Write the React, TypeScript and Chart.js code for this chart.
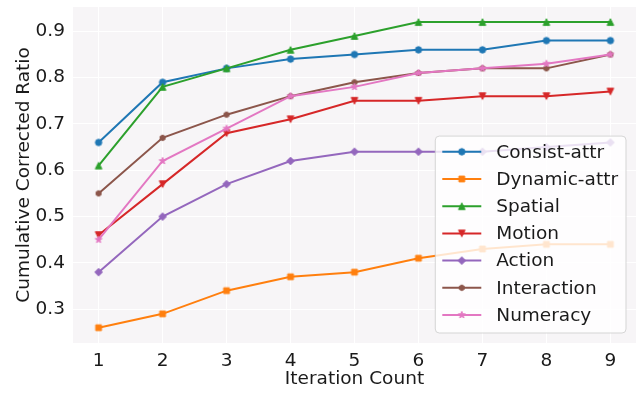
import { useEffect, useRef } from 'react';
import { Chart, registerables } from 'chart.js';

Chart.register(...registerables);

const iterations = [1, 2, 3, 4, 5, 6, 7, 8, 9];
const consistAttr = [0.66, 0.79, 0.82, 0.84, 0.85, 0.86, 0.86, 0.88, 0.88];
const dynamicAttr = [0.26, 0.29, 0.34, 0.37, 0.38, 0.41, 0.43, 0.44, 0.44];
const spatial = [0.61, 0.78, 0.82, 0.86, 0.89, 0.92, 0.92, 0.92, 0.92];
const motion = [0.46, 0.57, 0.68, 0.71, 0.75, 0.75, 0.76, 0.76, 0.77];
const action = [0.38, 0.5, 0.57, 0.62, 0.64, 0.64, 0.64, 0.65, 0.66];
const interaction = [0.55, 0.67, 0.72, 0.76, 0.79, 0.81, 0.82, 0.82, 0.85];
const numeracy = [0.45, 0.62, 0.69, 0.76, 0.78, 0.81, 0.82, 0.83, 0.85];

const seriesNames = ['Consist-attr', 'Dynamic-attr', 'Spatial', 'Motion', 'Action', 'Interaction', 'Numeracy'];
const seriesValues = [consistAttr, dynamicAttr, spatial, motion, action, interaction, numeracy];
const seriesColors = ['#1f77b4', '#ff7f0e', '#2ca02c', '#d62728', '#9467bd', '#8c564b', '#e377c2'];
const seriesMarkers = ['circle', 'square', 'triUp', 'triDown', 'diamond', 'hexagon', 'star'];

const yTicks = [0.3, 0.4, 0.5, 0.6, 0.7, 0.8, 0.9];
const xTicks = iterations;

const FONT = 'DejaVu Sans';
const FS = 18.5;
const TEXT = '#1a1a1a';

function makeMarker(shape: string, color: string): HTMLCanvasElement {
  const S = 14;
  const c = document.createElement('canvas');
  c.width = S;
  c.height = S;
  const ctx = c.getContext('2d')!;
  const cx = S / 2;
  const cy = S / 2;
  ctx.fillStyle = color;
  ctx.strokeStyle = color;
  ctx.lineWidth = 1;
  ctx.beginPath();
  if (shape === 'circle') {
    ctx.arc(cx, cy, 3.2, 0, Math.PI * 2);
  } else if (shape === 'square') {
    ctx.rect(cx - 2.9, cy - 2.9, 5.8, 5.8);
  } else if (shape === 'triUp') {
    ctx.moveTo(cx, cy - 3.3);
    ctx.lineTo(cx - 3.3, cy + 3.3);
    ctx.lineTo(cx + 3.3, cy + 3.3);
    ctx.closePath();
  } else if (shape === 'triDown') {
    ctx.moveTo(cx, cy + 3.3);
    ctx.lineTo(cx - 3.3, cy - 3.3);
    ctx.lineTo(cx + 3.3, cy - 3.3);
    ctx.closePath();
  } else if (shape === 'diamond') {
    ctx.moveTo(cx, cy - 3.8);
    ctx.lineTo(cx + 3.8, cy);
    ctx.lineTo(cx, cy + 3.8);
    ctx.lineTo(cx - 3.8, cy);
    ctx.closePath();
  } else if (shape === 'hexagon') {
    for (let i = 0; i < 6; i++) {
      const a = -Math.PI / 2 + (i * Math.PI) / 3;
      const px = cx + 2.9 * Math.cos(a);
      const py = cy + 2.9 * Math.sin(a);
      if (i === 0) ctx.moveTo(px, py);
      else ctx.lineTo(px, py);
    }
    ctx.closePath();
  } else if (shape === 'star') {
    for (let i = 0; i < 10; i++) {
      const a = -Math.PI / 2 + (i * Math.PI) / 5;
      const r = i % 2 === 0 ? 3.6 : 1.5;
      const px = cx + r * Math.cos(a);
      const py = cy + r * Math.sin(a);
      if (i === 0) ctx.moveTo(px, py);
      else ctx.lineTo(px, py);
    }
    ctx.closePath();
  }
  ctx.fill();
  ctx.stroke();
  return c;
}

export default function App() {
  const canvasRef = useRef<HTMLCanvasElement | null>(null);

  useEffect(() => {
    const canvas = canvasRef.current;
    if (!canvas) return;
    const markers = seriesMarkers.map((m, i) => makeMarker(m, seriesColors[i]));

    const bgPlugin = {
      id: 'plotBg',
      beforeDraw(chart: any) {
        const { ctx, chartArea } = chart;
        ctx.save();
        ctx.fillStyle = '#f7f5f7';
        ctx.fillRect(chartArea.left, chartArea.top, chartArea.right - chartArea.left, chartArea.bottom - chartArea.top);
        ctx.restore();
      },
    };

    const legendPlugin = {
      id: 'mplLegend',
      afterDatasetsDraw(chart: any) {
        const { ctx, chartArea } = chart;
        ctx.save();
        ctx.font = `${FS}px "${FONT}"`;
        let maxW = 0;
        seriesNames.forEach((n) => {
          maxW = Math.max(maxW, ctx.measureText(n).width);
        });
        const rowH = 27.2;
        const w = 61 + maxW + 8;
        const h = 15.7 + rowH * (seriesNames.length - 1) + 18;
        const right = chartArea.right - 10;
        const bottom = chartArea.bottom - 10;
        const left = right - w;
        const top = bottom - h;
        const r = 4;
        ctx.beginPath();
        ctx.moveTo(left + r, top);
        ctx.lineTo(right - r, top);
        ctx.arcTo(right, top, right, top + r, r);
        ctx.lineTo(right, bottom - r);
        ctx.arcTo(right, bottom, right - r, bottom, r);
        ctx.lineTo(left + r, bottom);
        ctx.arcTo(left, bottom, left, bottom - r, r);
        ctx.lineTo(left, top + r);
        ctx.arcTo(left, top, left + r, top, r);
        ctx.closePath();
        ctx.fillStyle = 'rgba(255,255,255,0.8)';
        ctx.fill();
        ctx.strokeStyle = 'rgba(204,204,204,0.8)';
        ctx.lineWidth = 1;
        ctx.stroke();

        seriesNames.forEach((n, i) => {
          const y = top + 15.7 + i * rowH;
          ctx.strokeStyle = seriesColors[i];
          ctx.lineWidth = 2;
          ctx.beginPath();
          ctx.moveTo(left + 7, y);
          ctx.lineTo(left + 46, y);
          ctx.stroke();
          const m = markers[i];
          ctx.drawImage(m, left + 26.5 - m.width / 2, y - m.height / 2);
          ctx.fillStyle = TEXT;
          ctx.textAlign = 'left';
          ctx.textBaseline = 'middle';
          ctx.fillText(n, left + 61, y + 1);
        });
        ctx.restore();
      },
    };

    const chart = new Chart(canvas, {
      type: 'line',
      data: {
        datasets: seriesNames.map((name, i) => ({
          label: name,
          data: iterations.map((x, j) => ({ x, y: seriesValues[i][j] })),
          borderColor: seriesColors[i],
          backgroundColor: seriesColors[i],
          borderWidth: 2,
          pointStyle: markers[i],
          pointRadius: 4,
          tension: 0,
          fill: false,
          order: seriesNames.length - i,
        })),
      },
      options: {
        responsive: false,
        animation: false,
        layout: { padding: { top: 7, right: 6, left: 0, bottom: 0 } },
        plugins: {
          legend: { display: false },
          tooltip: { enabled: false },
        },
        scales: {
          x: {
            type: 'linear',
            min: 0.6,
            max: 9.4,
            afterBuildTicks(scale: any) {
              scale.ticks = xTicks.map((v) => ({ value: v }));
            },
            afterFit(scale: any) {
              scale.height = 52;
              scale.paddingLeft = 0;
              scale.paddingRight = 0;
            },
            grid: { color: '#ffffff', lineWidth: 1, drawTicks: false },
            border: { display: false },
            ticks: {
              padding: 7,
              color: TEXT,
              font: { family: FONT, size: FS },
              maxRotation: 0,
              autoSkip: false,
              callback: (v: any) => String(v),
            },
            title: {
              display: true,
              text: 'Iteration Count',
              color: TEXT,
              font: { family: FONT, size: FS },
              padding: { top: 0, bottom: 5 },
            },
          },
          y: {
            type: 'linear',
            min: 0.227,
            max: 0.9525,
            afterBuildTicks(scale: any) {
              scale.ticks = yTicks.map((v) => ({ value: v }));
            },
            afterFit(scale: any) {
              scale.width = 73;
              scale.paddingTop = 0;
              scale.paddingBottom = 0;
            },
            grid: { color: '#ffffff', lineWidth: 1, drawTicks: false },
            border: { display: false },
            ticks: {
              padding: 8,
              color: TEXT,
              font: { family: FONT, size: FS },
              autoSkip: false,
              callback: (v: any) => Number(v).toFixed(1),
            },
            title: {
              display: true,
              text: 'Cumulative Corrected Ratio',
              color: TEXT,
              font: { family: FONT, size: FS },
              padding: { top: 13, bottom: 0 },
            },
          },
        },
      },
      plugins: [bgPlugin, legendPlugin],
    });

    return () => {
      chart.destroy();
    };
  }, []);

  return (
    <div style={{ position: 'fixed', left: 0, top: 0, width: 642, height: 395, background: '#ffffff' }}>
      <canvas ref={canvasRef} width={642} height={395} style={{ display: 'block', width: 642, height: 395 }} />
    </div>
  );
}
